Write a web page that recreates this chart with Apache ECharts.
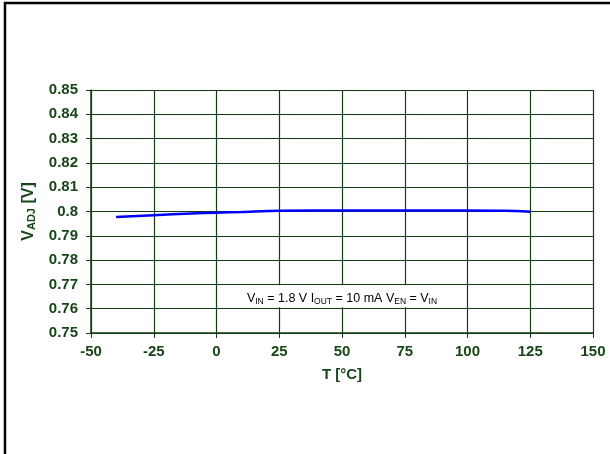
<!DOCTYPE html>
<html><head><meta charset="utf-8">
<script src="https://cdn.jsdelivr.net/npm/echarts@6/dist/echarts.min.js"></script>
<style>html,body{margin:0;padding:0;background:#fff}#c{width:610px;height:454px}</style>
</head><body><div id="c"></div>
<script>
const temps = [-40, -25, -10, 0, 10, 25, 50, 75, 100, 115, 125];
const vadj = [0.7977, 0.7985, 0.7992, 0.7995, 0.7998, 0.8003, 0.8004, 0.8004, 0.8004, 0.8003, 0.7999];
const xTicks = [-50, -25, 0, 25, 50, 75, 100, 125, 150];
const yTicks = [0.75, 0.76, 0.77, 0.78, 0.79, 0.8, 0.81, 0.82, 0.83, 0.84, 0.85];
const noteAnchor = [50, 0.7649];

const txt = '#184618', ln = '#143c14';
const FF = 'Liberation Sans, Arial';
const chart = echarts.init(document.getElementById('c'));
chart.setOption({
  animation: false,
  backgroundColor: '#fff',
  grid: {left: 91, top: 90, right: 17, bottom: 121, containLabel: false},
  xAxis: {
    type: 'value', min: xTicks[0], max: xTicks[xTicks.length-1], interval: 25,
    name: 'T [°C]', nameLocation: 'middle', nameGap: 34,
    nameTextStyle: {color: txt, fontFamily: FF, fontWeight: 'bold', fontSize: 15},
    axisLine: {show: true, onZero: false, lineStyle: {color: ln, width: 1.5}},
    axisTick: {show: true, length: 5, lineStyle: {color: ln}},
    axisLabel: {color: txt, fontFamily: FF, fontWeight: 'bold', fontSize: 15, margin: 11},
    splitLine: {show: true, lineStyle: {color: ln, width: 1.2}}
  },
  yAxis: {
    type: 'value', min: yTicks[0], max: yTicks[yTicks.length-1], interval: 0.01,
    name: '{b|V}{s|ADJ}{b| [V]}', nameLocation: 'middle', nameGap: 50, nameRotate: 90,
    nameTextStyle: {color: txt, rich: {
      b: {color: txt, fontFamily: FF, fontWeight: 'bold', fontSize: 16},
      s: {color: txt, fontFamily: FF, fontWeight: 'bold', fontSize: 11, verticalAlign: 'bottom', padding: [7,0,0,0]}
    }},
    axisLine: {show: true, onZero: false, lineStyle: {color: ln, width: 1.5}},
    axisTick: {show: true, length: 5, lineStyle: {color: ln}},
    axisLabel: {color: txt, fontFamily: FF, fontWeight: 'bold', fontSize: 15, margin: 13,
      formatter: v => String(parseFloat(v.toFixed(2)))},
    splitLine: {show: true, lineStyle: {color: ln, width: 1.2}}
  },
  series: [{
    type: 'line', data: temps.map((t, i) => [t, vadj[i]]),
    showSymbol: false, smooth: 0.3,
    lineStyle: {color: '#0000ff', width: 2.5}
  }]
});
const p = chart.convertToPixel({gridIndex: 0}, noteAnchor);
const sub = {color: txt, fontFamily: FF, fontSize: 8.5, verticalAlign: 'bottom', padding: [5,0,0,0]};
const reg = {color: txt, fontFamily: FF, fontSize: 12.5};
chart.setOption({
  graphic: [
    {type: 'rect', x: 5, y: 3, shape: {width: 800, height: 800}, style: {fill: 'none', stroke: '#000', lineWidth: 2.5}, silent: true},
    {type: 'rect', x: p[0]-105, y: p[1]-11.5, shape: {width: 211, height: 22}, style: {fill: '#fff', stroke: 'none'}, z: 10},
    {type: 'text', x: p[0], y: p[1]+2, z: 11, style: {
      text: '{r|V}{s|IN}{r| = 1.8 V I}{s|OUT}{r| = 10 mA V}{s|EN}{r| = V}{s|IN}',
      align: 'center', verticalAlign: 'middle', rich: {r: reg, s: sub}}}
  ]
});
</script></body></html>
